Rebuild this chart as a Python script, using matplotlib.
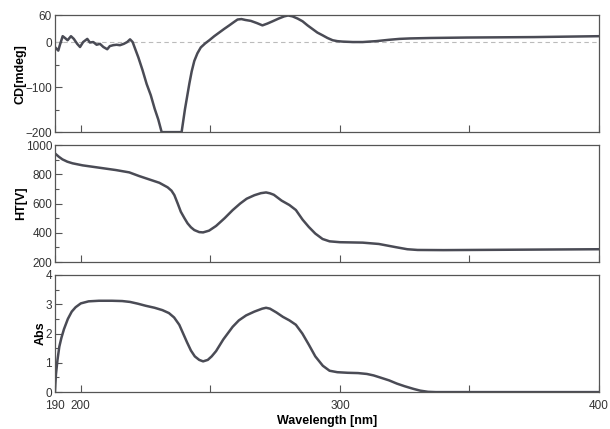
import numpy as np
import matplotlib.pyplot as plt
from matplotlib.ticker import FixedLocator

plt.rcParams['font.family'] = ['Liberation Sans', 'DejaVu Sans']

# CD spectrum (mdeg)
cd_wl = [190.0, 191.3, 191.9, 193.0, 193.9, 194.9, 196.2, 197.3, 198.6, 199.7,
         200.9, 202.5, 203.5, 204.8, 206.1, 207.4, 208.7, 210.2, 211.2, 212.5,
         213.8, 215.1, 216.6, 217.9, 219.0, 220.0, 220.9, 222.2, 223.8, 225.4,
         227.0, 228.5, 229.9, 231.2, 235.0, 238.9, 240.2, 241.9, 242.8, 243.8,
         245.0, 246.3, 248.0, 249.6, 251.5, 253.4, 255.3, 257.3, 259.0, 260.5,
         262.0, 263.5, 265.6, 268.0, 270.1, 272.0, 274.0, 276.3, 278.5, 280.0,
         281.7, 283.7, 285.6, 287.5, 289.4, 291.3, 293.3, 295.2, 297.2, 299.0,
         301.0, 305.0, 308.8, 314.0, 319.0, 323.0, 327.0, 335.0, 349.0, 375.0,
         400.0]
cd_val = [-11, -19, -7, 13, 9, 4, 13, 7, -4, -11,
          0, 7, -1, 0, -6, -4, -11, -16, -9, -7,
          -6, -7, -4, 0, 6, 0, -14, -34, -62, -93,
          -118, -148, -172, -200, -200, -200, -149, -92, -65, -42,
          -25, -12, -3, 4, 13, 21, 29, 37, 44, 50,
          51, 49, 47, 42, 37, 41, 46, 52, 57, 59,
          57, 52, 46, 37, 29, 21, 15, 9, 4, 2,
          1, 0, 0, 2, 5, 7, 8, 9, 10, 11,
          13]

# HT voltage (V)
ht_wl = [190.0, 191.5, 192.9, 194.8, 196.8, 200.7, 207.1, 213.5, 218.7, 222.5,
         226.4, 230.3, 233.5, 235.0, 236.1, 237.4, 238.6, 240.0, 241.2, 242.5,
         243.8, 245.7, 247.2, 249.5, 252.2, 255.5, 258.6, 261.5, 264.0, 267.0,
         269.5, 271.5, 273.0, 274.5, 277.5, 280.5, 283.0, 285.6, 288.0, 290.5,
         293.3, 296.0, 300.0, 308.8, 315.0, 321.6, 326.0, 330.0, 340.0, 360.0,
         380.0, 400.0]
ht_val = [943, 920, 902, 886, 875, 861, 845, 829, 813, 788,
          765, 742, 711, 688, 658, 600, 544, 500, 465, 438,
          419, 405, 403, 415, 447, 500, 555, 600, 633, 657,
          671, 676, 670, 660, 620, 590, 556, 490, 440, 395,
          358, 342, 336, 333, 324, 302, 288, 283, 282, 284,
          286, 288]

# Absorbance
abs_wl = [190.0, 190.4, 191.0, 191.7, 192.5, 193.5, 195.0, 196.5, 198.0, 200.0,
          203.0, 207.0, 212.0, 216.0, 219.0, 222.0, 225.0, 228.5, 231.5, 234.0,
          236.0, 238.0, 239.5, 241.0, 242.5, 244.0, 245.7, 247.2, 249.0, 250.5,
          252.2, 255.0, 258.6, 261.0, 263.8, 267.0, 270.0, 271.5, 273.0, 275.5,
          278.0, 280.5, 283.0, 285.5, 288.0, 290.5, 293.4, 296.0, 299.0, 303.0,
          307.0, 310.4, 313.0, 315.5, 319.0, 322.0, 325.0, 328.4, 331.0, 334.0,
          337.0, 350.0, 400.0]
abs_val = [0.0, 0.6, 1.1, 1.55, 1.85, 2.15, 2.5, 2.75, 2.9, 3.03,
           3.1, 3.12, 3.12, 3.11, 3.08, 3.02, 2.95, 2.88, 2.8, 2.7,
           2.55, 2.3, 2.0, 1.7, 1.42, 1.22, 1.1, 1.05, 1.1, 1.22,
           1.4, 1.8, 2.23, 2.45, 2.62, 2.75, 2.85, 2.88, 2.85, 2.72,
           2.57, 2.45, 2.3, 2.0, 1.62, 1.22, 0.9, 0.73, 0.68, 0.66,
           0.65, 0.62, 0.57, 0.5, 0.4, 0.29, 0.2, 0.11, 0.05, 0.01,
           0.0, 0.0, 0.0]

line_color = '#4a4b55'

fig, axes = plt.subplots(3, 1, sharex=True, figsize=(6.10, 4.29), dpi=100)
fig.subplots_adjust(left=0.09, right=0.982, top=0.965, bottom=0.086, hspace=0.11)

ax_cd, ax_ht, ax_abs = axes

ax_cd.axhline(0, color='#bbbbbb', lw=0.8, ls=(0, (4, 3)))
ax_cd.plot(cd_wl, cd_val, color=line_color, lw=1.8)
ax_cd.set_ylim(-200, 60)
ax_cd.set_yticks([-200, -100, 0, 60])
ax_cd.yaxis.set_minor_locator(FixedLocator([-150, -50]))
ax_cd.set_ylabel('CD[mdeg]', fontweight='bold', fontsize=9, labelpad=-1)

ax_ht.plot(ht_wl, ht_val, color=line_color, lw=1.8)
ax_ht.set_ylim(200, 1000)
ax_ht.set_yticks([200, 400, 600, 800, 1000])
ax_ht.yaxis.set_minor_locator(FixedLocator([300, 500, 700, 900]))
ax_ht.set_ylabel('HT[V]', fontweight='bold', fontsize=9, labelpad=-1)

ax_abs.plot(abs_wl, abs_val, color=line_color, lw=1.8)
ax_abs.set_ylim(0, 4)
ax_abs.set_yticks([0, 1, 2, 3, 4])
ax_abs.yaxis.set_minor_locator(FixedLocator([0.5, 1.5, 2.5, 3.5]))
ax_abs.set_ylabel('Abs', fontweight='bold', fontsize=9, labelpad=-1)

ax_abs.set_xlim(190, 400)
ax_abs.set_xticks([190, 200, 250, 300, 350, 400])
ax_abs.set_xticklabels(['190', '200', '', '300', '', '400'])
ax_abs.set_xlabel('Wavelength [nm]', fontweight='bold', fontsize=9, labelpad=2)

for ax in axes:
    for s in ax.spines.values():
        s.set_color('#555555')
        s.set_linewidth(0.9)
    ax.tick_params(axis='both', which='major', direction='in', length=5,
                   width=0.8, color='#555555', labelsize=8.5, labelcolor='#333333')
    ax.tick_params(axis='y', which='major', pad=2)
    ax.tick_params(axis='x', which='major', pad=6)
    ax.tick_params(axis='y', which='minor', direction='in', length=3,
                   width=0.8, color='#555555')

fig.savefig('out.png')
